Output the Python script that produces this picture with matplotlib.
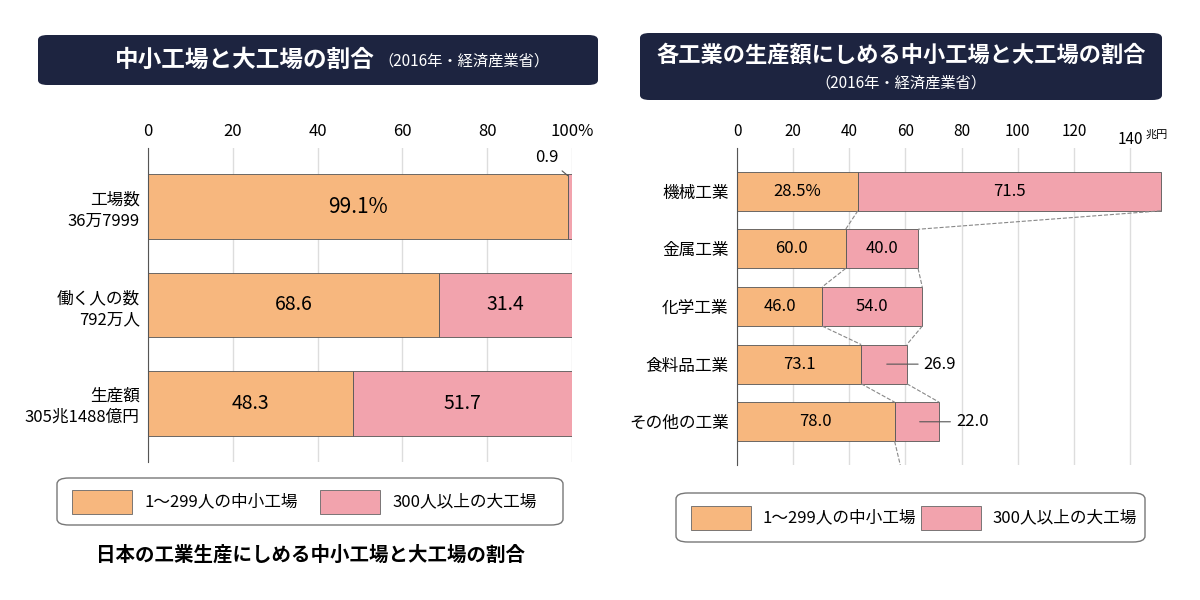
import matplotlib.pyplot as plt
from matplotlib.patches import FancyBboxPatch, Rectangle

plt.rcParams['font.family'] = ['Noto Sans CJK JP', 'DejaVu Sans']

# left chart: share of small/medium factories (%)
left_cats = ['工場数\n36万7999', '働く人の数\n792万人', '生産額\n305兆1488億円']
left_small = [99.1, 68.6, 48.3]
left_large = [0.9, 31.4, 51.7]
left_ticks = [0, 20, 40, 60, 80, 100]

# right chart: production by industry (trillion yen) and small-factory share (%)
right_cats = ['機械工業', '金属工業', '化学工業', '食料品工業', 'その他の工業']
right_total = [151, 64.5, 66, 60.5, 72]
right_small_pct = [28.5, 60.0, 46.0, 73.1, 78.0]
right_large_pct = [71.5, 40.0, 54.0, 26.9, 22.0]
right_ticks = [0, 20, 40, 60, 80, 100, 120, 140]

ORANGE = '#f7b77e'
PINK = '#f2a3ad'
NAVY = '#1d2440'
W, H = 1200, 600

fig = plt.figure(figsize=(12, 6), dpi=100)


def fx(x):
    return x / W


def fy(y):
    return 1 - y / H


def title_box(x0, y0, x1, y1):
    fig.patches.append(FancyBboxPatch((fx(x0), fy(y1)), fx(x1 - x0), (y1 - y0) / H,
                                      boxstyle='round,pad=0,rounding_size=0.008',
                                      transform=fig.transFigure, fc=NAVY, ec='none'))


def legend_box(x0, y0, x1, y1):
    fig.patches.append(FancyBboxPatch((fx(x0), fy(y1)), fx(x1 - x0), (y1 - y0) / H,
                                      boxstyle='round,pad=0,rounding_size=0.01',
                                      transform=fig.transFigure, fc='white', ec='#777', lw=1))
    xm = (x0 + x1) / 2
    for xs, col, lab in [(x0 + 15, ORANGE, '1～299人の中小工場'), (xm + 10, PINK, '300人以上の大工場')]:
        fig.patches.append(Rectangle((fx(xs), fy((y0 + y1) / 2 + 12)), fx(60), 24 / H,
                                     transform=fig.transFigure, fc=col, ec='#666', lw=0.6))
        fig.text(fx(xs + 72), fy((y0 + y1) / 2), lab, fontsize=12, va='center')


# ---- left ----
title_box(38, 35, 598, 85)
fig.text(fx(375), fy(60), '中小工場と大工場の割合', color='white', fontsize=17,
         fontweight='bold', ha='right', va='center')
fig.text(fx(378), fy(61), '（2016年・経済産業省）', color='white', fontsize=11, va='center')

ax = fig.add_axes([fx(148), fy(462), fx(572 - 148), (462 - 148) / H])
ypos = [0, 1, 2]
ax.barh(ypos, left_small, height=0.66, color=ORANGE, edgecolor='#555', lw=0.6)
ax.barh(ypos, left_large, left=left_small, height=0.66, color=PINK, edgecolor='#555', lw=0.6)
ax.set_xlim(0, 100)
ax.set_ylim(2.6, -0.6)
ax.xaxis.tick_top()
ax.set_xticks(left_ticks)
ax.set_xticklabels([str(t) for t in left_ticks[:-1]] + ['100%'], fontsize=12)
ax.set_yticks(ypos)
ax.set_yticklabels(left_cats, fontsize=12, linespacing=1.3)
ax.tick_params(length=0, pad=6)
ax.grid(axis='x', color='#ddd', lw=1)
ax.set_axisbelow(True)
for s in ['top', 'right', 'bottom']:
    ax.spines[s].set_visible(False)
ax.spines['left'].set_color('#555')
for i in ypos:
    ax.text(left_small[i] / 2, i, f'{left_small[i]}%' if i == 0 else f'{left_small[i]}',
            ha='center', va='center', fontsize=15 if i == 0 else 14)
    if i > 0:
        ax.text(left_small[i] + left_large[i] / 2, i, f'{left_large[i]}',
                ha='center', va='center', fontsize=14)
ax.annotate(f'{left_large[0]}', xy=(99.5, -0.3), xytext=(94, -0.5), fontsize=12,
            ha='center', va='center',
            arrowprops=dict(arrowstyle='-', color='#555', lw=0.8))

legend_box(57, 478, 563, 525)
fig.text(fx(310), fy(555), '日本の工業生産にしめる中小工場と大工場の割合', fontsize=14,
         fontweight='bold', ha='center', va='center')

# ---- right ----
title_box(640, 33, 1162, 100)
fig.text(fx(901), fy(55), '各工業の生産額にしめる中小工場と大工場の割合', color='white',
         fontsize=16, fontweight='bold', ha='center', va='center')
fig.text(fx(901), fy(83), '（2016年・経済産業省）', color='white', fontsize=11,
         ha='center', va='center')

ax2 = fig.add_axes([fx(737), fy(465), fx(1162 - 737), (465 - 148) / H])
ry = list(range(len(right_cats)))
rs = [t * p / 100 for t, p in zip(right_total, right_small_pct)]
rl = [t - s for t, s in zip(right_total, rs)]
bh = 0.68
ax2.barh(ry, rs, height=bh, color=ORANGE, edgecolor='#555', lw=0.6)
ax2.barh(ry, rl, left=rs, height=bh, color=PINK, edgecolor='#555', lw=0.6)
xmax = 140 * (1162 - 737) / (1130 - 737)
ax2.set_xlim(0, xmax)
ax2.set_ylim(4.75, -0.75)
ax2.xaxis.tick_top()
ax2.set_xticks(right_ticks)
ax2.set_xticklabels([str(t) for t in right_ticks[:-1]] + [''], fontsize=11)
ax2.text(right_ticks[-1], -0.75, '140', fontsize=11, ha='center', va='bottom',
         transform=ax2.transData)
ax2.annotate('兆円', xy=(right_ticks[-1], -0.75), xytext=(11, 6), textcoords='offset points',
             fontsize=8, ha='left', va='bottom')
ax2.set_yticks(ry)
ax2.set_yticklabels(right_cats, fontsize=12)
ax2.tick_params(length=0, pad=6)
ax2.grid(axis='x', color='#ddd', lw=1)
ax2.set_axisbelow(True)
for s in ['top', 'right', 'bottom']:
    ax2.spines[s].set_visible(False)
ax2.spines['left'].set_color('#555')
for i in ry:
    lab = f'{right_small_pct[i]}%' if i == 0 else f'{right_small_pct[i]}'
    ax2.text(rs[i] / 2, i, lab, ha='center', va='center', fontsize=12)
    if rl[i] > 20:
        ax2.text(rs[i] + rl[i] / 2, i, f'{right_large_pct[i]}', ha='center', va='center', fontsize=12)
    else:
        ax2.annotate(f'{right_large_pct[i]}', xy=(rs[i] + rl[i] / 2, i),
                     xytext=(right_total[i] + 6, i), fontsize=12, va='center',
                     arrowprops=dict(arrowstyle='-', color='#555', lw=0.8))
    # dashed connectors between rows
    if i < len(ry) - 1:
        ax2.plot([rs[i], rs[i + 1]], [i + bh / 2, i + 1 - bh / 2], ls='--', color='#888', lw=0.8)
        ax2.plot([right_total[i], right_total[i + 1]], [i + bh / 2, i + 1 - bh / 2],
                 ls='--', color='#888', lw=0.8)
ax2.plot([rs[-1], rs[-1] + 2], [ry[-1] + bh / 2, 4.75], ls='--', color='#888', lw=0.8)

legend_box(676, 493, 1145, 542)

fig.savefig('out.png', dpi=100)
